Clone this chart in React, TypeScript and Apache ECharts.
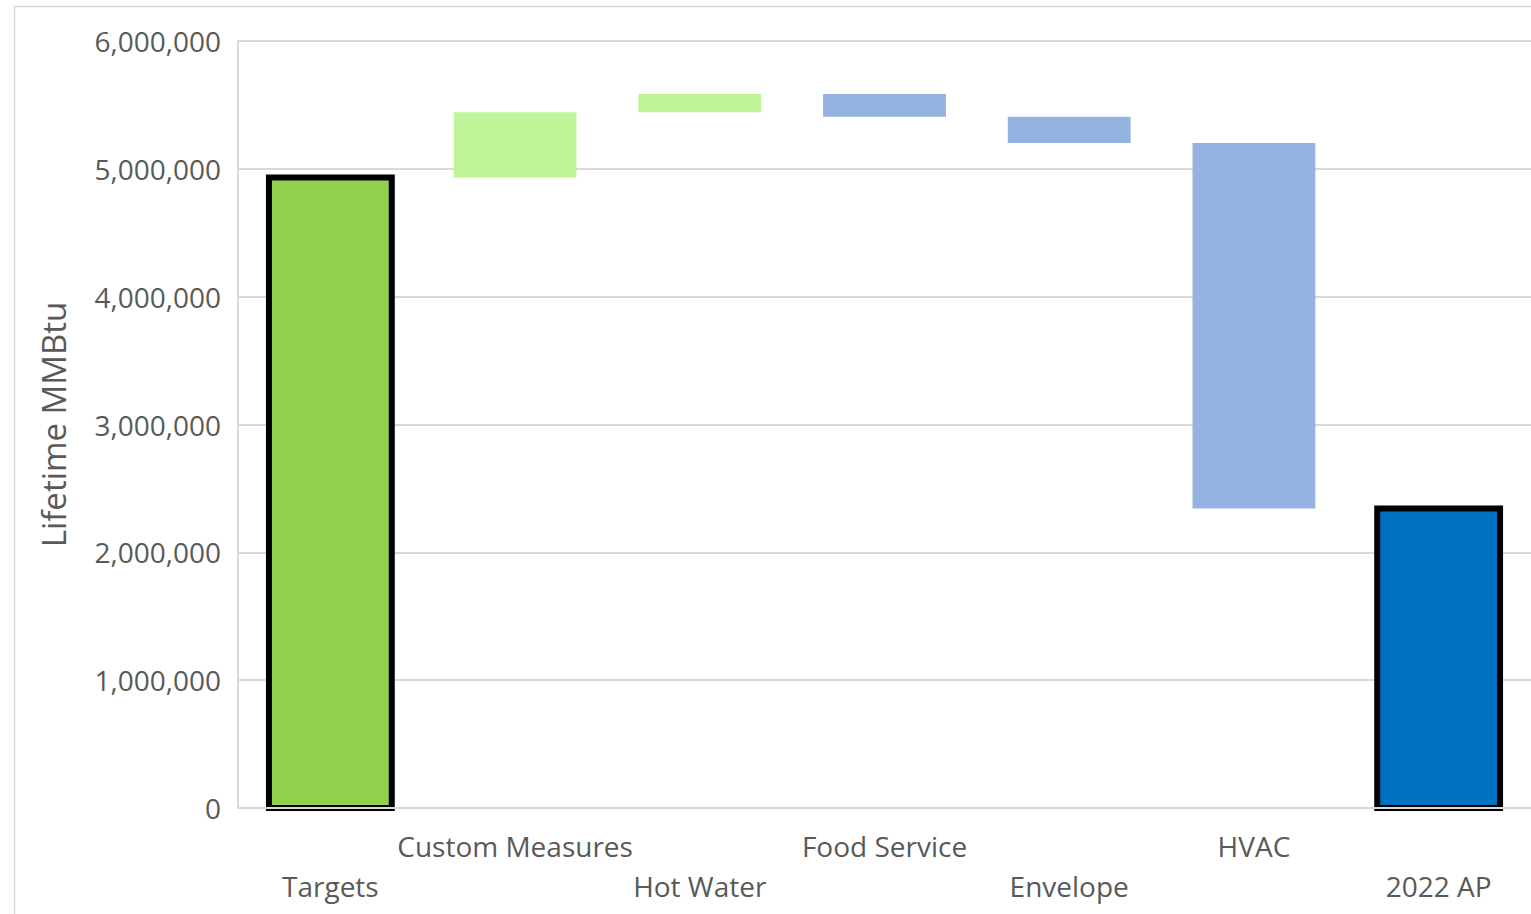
import React, { useEffect, useRef } from "react";
import * as echarts from "echarts";

// Waterfall of lifetime savings: starting target, step changes, resulting plan total
const categories = ["Targets", "Custom Measures", "Hot Water", "Food Service", "Envelope", "HVAC", "2022 AP"];
const startTotal = 4932000;
const stepChanges = [510000, 144000, -178000, -206000, -2860000];
const yTicks = { min: 0, max: 6000000, interval: 1000000 };

// kind: 0 = start total, 1 = increase, 2 = decrease, 3 = end total
const kindColors = ["#92D050", "#C0F498", "#95B3E0", "#0070C0"];

function buildRows(): number[][] {
  const rows: number[][] = [[0, 0, startTotal, 0]];
  let running = startTotal;
  stepChanges.forEach((c, k) => {
    const next = running + c;
    rows.push([k + 1, Math.min(running, next), Math.max(running, next), c >= 0 ? 1 : 2]);
    running = next;
  });
  rows.push([categories.length - 1, 0, running, 3]);
  return rows;
}

export default function App() {
  const ref = useRef<HTMLDivElement>(null);
  useEffect(() => {
    if (!ref.current) return;
    const chart = echarts.init(ref.current, null, { renderer: "svg" });
    const font = "Open Sans";
    chart.setOption({
      animation: false,
      backgroundColor: "#fff",
      graphic: [
        {
          type: "rect",
          shape: { x: 14.5, y: 6.5, width: 1600, height: 1000 },
          style: { fill: "none", stroke: "#D9D9D9", lineWidth: 1.5 },
          silent: true,
          z: -1,
        },
      ],
      grid: { left: 238, top: 41, width: 1295, height: 767 },
      xAxis: {
        type: "category",
        data: categories,
        z: 10,
        axisLine: { show: true, lineStyle: { color: "#D9D9D9", width: 2 } },
        axisTick: { show: false },
        axisLabel: {
          interval: 0,
          margin: 18,
          color: "#595959",
          fontFamily: font,
          fontSize: 28,
          lineHeight: 40,
          formatter: (v: string, i: number) => (i % 2 === 0 ? "\n" + v : v),
        },
      },
      yAxis: {
        type: "value",
        min: yTicks.min,
        max: yTicks.max,
        interval: yTicks.interval,
        name: "Lifetime MMBtu",
        nameLocation: "middle",
        nameGap: 168,
        nameTextStyle: { color: "#595959", fontFamily: font, fontSize: 33 },
        axisLine: { show: true, lineStyle: { color: "#D9D9D9", width: 2 } },
        axisTick: { show: false },
        splitLine: { lineStyle: { color: "#D9D9D9", width: 2 } },
        axisLabel: {
          margin: 17,
          color: "#595959",
          fontFamily: font,
          fontSize: 28,
          formatter: (v: number) => v.toLocaleString("en-US"),
        },
      },
      series: [
        {
          type: "custom",
          data: buildRows(),
          encode: { x: 0, y: [1, 2] },
          renderItem: (params: any, api: any) => {
            const i = api.value(0);
            const lo = api.value(1);
            const hi = api.value(2);
            const kind = api.value(3);
            const top = api.coord([i, hi]);
            const bottom = api.coord([i, lo]);
            const bw = api.size([1, 0])[0] * 0.665;
            const isTotal = kind === 0 || kind === 3;
            return {
              type: "rect",
              shape: {
                x: top[0] - bw / 2,
                y: top[1],
                width: bw,
                height: bottom[1] - top[1],
              },
              style: {
                fill: kindColors[kind],
                stroke: isTotal ? "#000" : null,
                lineWidth: isTotal ? 6 : 0,
              },
            };
          },
        },
      ],
    });
    return () => chart.dispose();
  }, []);
  return (
    <div
      ref={ref}
      style={{ position: "fixed", left: 0, top: 0, width: 1531, height: 914 }}
    />
  );
}
